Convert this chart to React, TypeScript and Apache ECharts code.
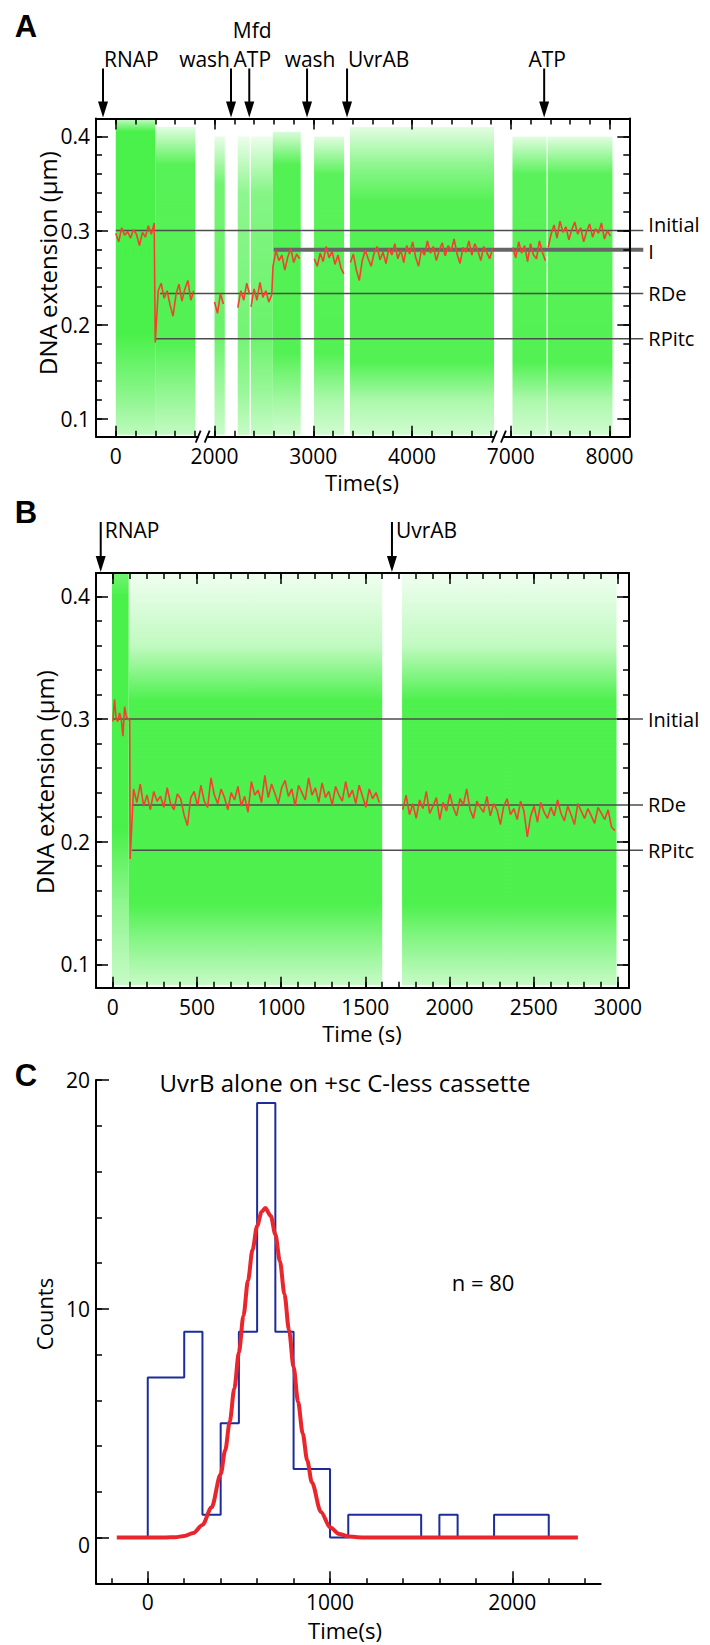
import React, { useEffect, useRef } from "react";
import * as echarts from "echarts";

const FONT = "'Open Sans', 'Liberation Sans', sans-serif";
const GREEN = [68, 240, 68];

// ================= Panel A =================
// axis with two breaks: each shown real-time range and the offset subtracted for display
const axisBreaksA = [
  { from: -200, to: 880, shift: 0 },
  { from: 1880, to: 4880, shift: 1000 },
  { from: 6880, to: 8200, shift: 3000 },
];
const xLabelTimesA = [0, 2000, 3000, 4000, 7000, 8000];
const yRangeAB = [0.081, 0.419];
const yLabelValuesAB = [0.1, 0.2, 0.3, 0.4];

// green raw-data clouds: time span and density profile [extension, relative density]
const greenA = [
  { t0: 0, t1: 400, stops: [[0.418, 0.35], [0.405, 0.97], [0.19, 0.97], [0.13, 0.65], [0.083, 0.35]] },
  { t0: 400, t1: 805, stops: [[0.41, 0.15], [0.37, 0.9], [0.18, 0.92], [0.13, 0.6], [0.083, 0.32]] },
  { t0: 2000, t1: 2104, stops: [[0.4, 0.12], [0.35, 0.75], [0.19, 0.8], [0.13, 0.5], [0.083, 0.28]] },
  { t0: 2235, t1: 2356, stops: [[0.4, 0.1], [0.34, 0.6], [0.19, 0.75], [0.13, 0.55], [0.083, 0.3]] },
  { t0: 2368, t1: 2590, stops: [[0.4, 0.1], [0.34, 0.65], [0.19, 0.8], [0.13, 0.55], [0.083, 0.3]] },
  { t0: 2590, t1: 2873, stops: [[0.405, 0.2], [0.37, 0.92], [0.17, 0.92], [0.12, 0.5], [0.083, 0.25]] },
  { t0: 3008, t1: 3312, stops: [[0.4, 0.15], [0.36, 0.88], [0.17, 0.92], [0.12, 0.45], [0.083, 0.25]] },
  { t0: 3372, t1: 4830, stops: [[0.41, 0.15], [0.37, 0.6], [0.33, 0.92], [0.16, 0.92], [0.12, 0.45], [0.083, 0.25]] },
  { t0: 7017, t1: 7362, stops: [[0.4, 0.15], [0.36, 0.88], [0.16, 0.92], [0.12, 0.45], [0.083, 0.25]] },
  { t0: 7376, t1: 8030, stops: [[0.4, 0.15], [0.36, 0.88], [0.16, 0.92], [0.12, 0.45], [0.083, 0.25]] },
];

// red filtered trace: start time, sample step (s), values (µm); cont = joins previous piece
const redA = [
  { t0: 0, dt: 30, v: [0.297, 0.288, 0.303, 0.295, 0.299, 0.292, 0.301, 0.296, 0.284, 0.298, 0.293, 0.305, 0.296, 0.308] },
  { t0: 400, dt: 30, cont: true, v: [0.181, 0.236, 0.244, 0.228, 0.236, 0.221, 0.209, 0.232, 0.243, 0.225, 0.238, 0.247, 0.226, 0.236] },
  { t0: 2000, dt: 30, v: [0.224, 0.212, 0.233, 0.222] },
  { t0: 2236, dt: 30, v: [0.218, 0.236, 0.226, 0.244, 0.232] },
  { t0: 2370, dt: 30, v: [0.219, 0.238, 0.226, 0.245, 0.229, 0.236, 0.224, 0.232] },
  { t0: 2592, dt: 30, cont: true, v: [0.262, 0.279, 0.268, 0.274, 0.258, 0.272, 0.281, 0.266, 0.275, 0.27] },
  { t0: 3010, dt: 30, v: [0.27, 0.262, 0.276, 0.267, 0.283, 0.271, 0.278, 0.264, 0.274, 0.26, 0.254] },
  {
    t0: 3376, dt: 30, v: [0.266, 0.275, 0.258, 0.247, 0.268, 0.279, 0.27, 0.262, 0.276, 0.283, 0.269, 0.277, 0.265, 0.281, 0.274, 0.286, 0.27, 0.279, 0.266, 0.284,
      0.275, 0.288, 0.272, 0.262, 0.28, 0.274, 0.289, 0.276, 0.283, 0.268, 0.279, 0.287, 0.273, 0.284, 0.278, 0.291, 0.275, 0.265, 0.282, 0.277,
      0.289, 0.274, 0.286, 0.279, 0.268, 0.283, 0.277, 0.27, 0.281],
  },
  { t0: 7020, dt: 30, v: [0.282, 0.271, 0.288, 0.276, 0.284, 0.267, 0.286, 0.274, 0.27, 0.289, 0.277, 0.268] },
  { t0: 7378, dt: 30, v: [0.282, 0.296, 0.306, 0.292, 0.31, 0.298, 0.304, 0.29, 0.301, 0.309, 0.296, 0.303, 0.288, 0.299, 0.307, 0.293, 0.302, 0.297, 0.308, 0.291, 0.3, 0.294] },
];

const refLinesA = [
  { label: "Initial", y: 0.3, t0: 0, heavy: false },
  { label: "I", y: 0.2795, t0: 2600, heavy: true },
  { label: "RDe", y: 0.233, t0: 450, heavy: false },
  { label: "RPitc", y: 0.185, t0: 400, heavy: false },
];

const arrowsA = [
  { t: -129, label: "RNAP", align: "left", over: "" },
  { t: 2167, label: "wash", align: "right", over: "" },
  { t: 2352, label: "ATP", align: "center", over: "Mfd" },
  { t: 2937, label: "wash", align: "center", over: "" },
  { t: 3342, label: "UvrAB", align: "left", over: "" },
  { t: 7338, label: "ATP", align: "center", over: "" },
];

// ================= Panel B =================
const xRangeB = [-100, 3066];
const xLabelValuesB = [0, 500, 1000, 1500, 2000, 2500, 3000];

const greenB = [
  { t0: -5, t1: 94, stops: [[0.419, 0.75], [0.4, 0.97], [0.21, 0.97], [0.15, 0.6], [0.083, 0.3]] },
  { t0: 94, t1: 1600, stops: [[0.419, 0.08], [0.36, 0.33], [0.315, 0.95], [0.15, 0.95], [0.12, 0.65], [0.083, 0.3]] },
  { t0: 1718, t1: 2992, stops: [[0.419, 0.08], [0.36, 0.33], [0.315, 0.95], [0.15, 0.95], [0.12, 0.65], [0.083, 0.3]] },
];

const redB = [
  { t0: 0, dt: 10, v: [0.298, 0.316, 0.3, 0.298, 0.305, 0.3, 0.286, 0.31, 0.302, 0.3, 0.299] },
  {
    t0: 103, dt: 20, cont: true, v: [0.186, 0.243, 0.232, 0.247, 0.229, 0.238, 0.226, 0.241, 0.233, 0.237, 0.228, 0.244, 0.231, 0.226, 0.239, 0.235, 0.222, 0.213, 0.236, 0.241,
      0.229, 0.246, 0.233, 0.228, 0.252, 0.238, 0.231, 0.243, 0.236, 0.226, 0.24, 0.234, 0.245, 0.229, 0.237, 0.224, 0.249, 0.238, 0.242, 0.232,
      0.254, 0.236, 0.247, 0.239, 0.231, 0.244, 0.25, 0.237, 0.243, 0.229, 0.246, 0.24, 0.234, 0.252, 0.238, 0.244, 0.232, 0.248, 0.236, 0.241,
      0.23, 0.245, 0.238, 0.233, 0.249, 0.236, 0.242, 0.231, 0.246, 0.237, 0.228, 0.243, 0.235, 0.24, 0.232],
  },
  {
    t0: 1722, dt: 20, v: [0.226, 0.238, 0.222, 0.231, 0.219, 0.234, 0.227, 0.241, 0.223, 0.229, 0.236, 0.218, 0.232, 0.225, 0.239, 0.228, 0.221, 0.235, 0.23, 0.243,
      0.226, 0.219, 0.233, 0.228, 0.224, 0.237, 0.221, 0.231, 0.226, 0.214, 0.229, 0.235, 0.222, 0.227, 0.218, 0.233, 0.225, 0.204, 0.221, 0.229,
      0.216, 0.232, 0.224, 0.219, 0.228, 0.221, 0.234, 0.223, 0.217, 0.229, 0.222, 0.214, 0.231, 0.225, 0.219, 0.227, 0.221, 0.215, 0.228, 0.223,
      0.218, 0.226, 0.212, 0.209],
  },
];

const refLinesB = [
  { label: "Initial", y: 0.3, t0: 0, heavy: false },
  { label: "RDe", y: 0.23, t0: 113, heavy: false },
  { label: "RPitc", y: 0.193, t0: 113, heavy: false },
];

const arrowsB = [
  { t: -72, label: "RNAP", align: "left", over: "" },
  { t: 1658, label: "UvrAB", align: "left", over: "" },
];

// ================= Panel C =================
const xRangeC = [-284, 2485];
const yRangeC = [-2, 20];
const xLabelValuesC = [0, 1000, 2000];
const yLabelValuesC = [0, 10, 20];
const binStartsC = [0, 100, 200, 300, 400, 500, 600, 700, 800, 900, 1000, 1100, 1200, 1300, 1400, 1500, 1600, 1700, 1800, 1900, 2000, 2100];
const binWidthC = 100;
const countsC = [7, 7, 9, 1, 5, 9, 19, 9, 3, 3, 0, 1, 1, 1, 1, 0, 1, 0, 0, 1, 1, 1];
const fitTimesC = [-170, 100, 150, 200, 250, 300, 350, 400, 425, 450, 475, 500, 525, 550, 575, 600, 625, 645, 675, 700, 725, 750, 775, 800, 825, 850, 875, 900, 950, 1000, 1050, 1100, 1150, 1200, 2360];
const fitCountsC = [0, 0.004, 0.017, 0.063, 0.2, 0.55, 1.32, 2.77, 3.82, 5.07, 6.52, 8.09, 9.7, 11.24, 12.59, 13.62, 14.24, 14.4, 14.05, 13.25, 12.08, 10.64, 9.06, 7.45, 5.92, 4.55, 3.37, 2.42, 1.12, 0.45, 0.16, 0.05, 0.013, 0, 0];

// ================= helpers / styling =================
const labelNudgeA: Record<string, number> = { Initial: -6, I: 2 };

const toDispA = (t: number) => {
  let s = axisBreaksA[0].shift;
  for (const b of axisBreaksA) if (t >= b.from) s = b.shift;
  return t - s;
};
const ident = (t: number) => t;
const rgba = (a: number) => `rgba(${GREEN[0]},${GREEN[1]},${GREEN[2]},${a})`;
const range = (a: number, b: number, step: number) => {
  const out: number[] = [];
  const n = Math.round((b - a) / step);
  for (let i = 0; i <= n; i++) out.push(Math.round((a + i * step) * 1000) / 1000);
  return out;
};

function buildRed(pieces: any[], map: (t: number) => number) {
  const lines: number[][][] = [];
  pieces.forEach((p) => {
    const pts = p.v.map((v: number, i: number) => [map(p.t0 + i * p.dt), v]);
    if (p.cont && lines.length) lines[lines.length - 1].push(...pts);
    else lines.push(pts);
  });
  return lines;
}

function mkAxis(o: any) {
  return {
    type: "value",
    gridIndex: o.grid,
    min: o.min,
    max: o.max,
    position: o.pos,
    z: 6,
    axisLine: { show: !!o.line, onZero: false, lineStyle: { color: "#000", width: 2 } },
    axisTick: { show: true, inside: true, length: o.len, customValues: o.ticks, lineStyle: { color: "#000", width: 1.5 } },
    axisLabel: o.labels
      ? { show: true, customValues: o.labels, formatter: o.fmt, margin: o.margin, fontSize: 21, color: "#000", fontFamily: FONT, rich: o.rich }
      : { show: false },
    splitLine: { show: false },
    minorTick: { show: false },
  };
}

function greenSeries(xi: number, segs: any[], map: (t: number) => number) {
  return {
    type: "custom",
    xAxisIndex: xi,
    yAxisIndex: xi,
    z: 1,
    silent: true,
    clip: false,
    data: segs.map((s) => [map(s.t0), map(s.t1), s.stops[0][0], s.stops[s.stops.length - 1][0]]),
    renderItem: (params: any, api: any) => {
      const s = segs[params.dataIndex];
      const p0 = api.coord([api.value(0), api.value(2)]);
      const p1 = api.coord([api.value(1), api.value(3)]);
      const h = p1[1] - p0[1];
      const colorStops = s.stops.map((st: number[]) => ({
        offset: Math.min(1, Math.max(0, (api.coord([api.value(0), st[0]])[1] - p0[1]) / h)),
        color: rgba(st[1]),
      }));
      return {
        type: "rect",
        shape: { x: p0[0], y: p0[1], width: p1[0] - p0[0], height: h },
        style: { fill: new echarts.graphic.LinearGradient(0, 0, 0, 1, colorStops) },
      };
    },
  };
}

function refSeries(xi: number, lines: any[], map: (t: number) => number, xMax: number, nudge: Record<string, number>) {
  return {
    type: "custom",
    xAxisIndex: xi,
    yAxisIndex: xi,
    z: 3,
    silent: true,
    clip: false,
    data: lines.map((r) => [map(r.t0), r.y]),
    renderItem: (params: any, api: any) => {
      const r = lines[params.dataIndex];
      const p0 = api.coord([api.value(0), api.value(1)]);
      const pe = api.coord([xMax, api.value(1)]);
      const xEnd = pe[0] + 14;
      return {
        type: "group",
        children: [
          {
            type: "line",
            shape: { x1: p0[0], y1: p0[1], x2: xEnd, y2: p0[1] },
            style: { stroke: r.heavy ? "#666" : "#4d4d4d", lineWidth: r.heavy ? 4 : 1.5 },
          },
          {
            type: "text",
            x: xEnd + 5,
            y: p0[1] + (nudge[r.label] || 0),
            style: { text: r.label, fontSize: 20, lineHeight: 20, fontFamily: FONT, fill: "#000", align: "left", verticalAlign: "middle" },
          },
        ],
      };
    },
  };
}

function arrowSeries(xi: number, items: any[], map: (t: number) => number, yTopVal: number, cfg: any) {
  return {
    type: "custom",
    xAxisIndex: xi,
    yAxisIndex: xi,
    z: 10,
    silent: true,
    clip: false,
    data: items.map((a) => [map(a.t), yTopVal]),
    renderItem: (params: any, api: any) => {
      const a = items[params.dataIndex];
      const p = api.coord([api.value(0), api.value(1)]);
      const x = p[0];
      const yTop = p[1];
      const children: any[] = [
        { type: "line", shape: { x1: x, y1: yTop - cfg.shaft, x2: x, y2: yTop - cfg.head + 2 }, style: { stroke: "#000", lineWidth: 2 } },
        { type: "polygon", shape: { points: [[x - 5, yTop - cfg.head], [x + 5, yTop - cfg.head], [x, yTop - 1]] }, style: { fill: "#000" } },
      ];
      let tx = x;
      if (cfg.beside) tx = x + 4;
      else if (a.align === "left") tx = x + 1;
      else if (a.align === "right") tx = x - 1;
      else tx = x + 3;
      children.push({
        type: "text",
        x: tx,
        y: yTop + cfg.labelDy,
        style: { text: a.label, fontSize: 21, fontFamily: FONT, fill: "#000", align: cfg.beside ? "left" : a.align, verticalAlign: "middle" },
      });
      if (a.over) {
        children.push({
          type: "text",
          x: tx,
          y: yTop + cfg.labelDy - 29,
          style: { text: a.over, fontSize: 21, fontFamily: FONT, fill: "#000", align: "center", verticalAlign: "middle" },
        });
      }
      return { type: "group", children };
    },
  };
}

function breakSeries(xi: number, dispPositions: number[], yMinVal: number) {
  return {
    type: "custom",
    xAxisIndex: xi,
    yAxisIndex: xi,
    z: 12,
    silent: true,
    clip: false,
    data: dispPositions.map((d) => [d, yMinVal]),
    renderItem: (params: any, api: any) => {
      const p = api.coord([api.value(0), api.value(1)]);
      const cx = p[0];
      const cy = p[1];
      return {
        type: "group",
        children: [
          { type: "rect", shape: { x: cx - 4, y: cy - 3, width: 8, height: 6 }, style: { fill: "#fff" } },
          { type: "line", shape: { x1: cx - 7, y1: cy + 6, x2: cx - 2, y2: cy - 6 }, style: { stroke: "#000", lineWidth: 1.8 } },
          { type: "line", shape: { x1: cx + 2, y1: cy + 6, x2: cx + 7, y2: cy - 6 }, style: { stroke: "#000", lineWidth: 1.8 } },
        ],
      };
    },
  };
}

function redSeries(xi: number, lines: number[][][]) {
  return lines.map((pts) => ({
    type: "line",
    xAxisIndex: xi,
    yAxisIndex: xi,
    z: 4,
    silent: true,
    showSymbol: false,
    symbol: "none",
    data: pts,
    lineStyle: { color: "#f2412f", width: 1.6 },
  }));
}

function txt(text: string, x: number, y: number, size: number, extra: any = {}) {
  return {
    type: "text",
    x,
    y,
    rotation: extra.rotation || 0,
    style: {
      text,
      fontSize: size,
      fontFamily: extra.family || FONT,
      fontWeight: extra.weight || "normal",
      fill: "#000",
      align: "center",
      verticalAlign: "middle",
      textAlign: "center",
      textVerticalAlign: "middle",
    },
  };
}

function buildOption() {
  const xMinA = toDispA(-200);
  const xMaxA = toDispA(8200);
  const xLabelDispA = xLabelTimesA.map(toDispA);
  const fmtA = (v: number) => {
    const i = xLabelDispA.findIndex((d) => Math.abs(d - v) < 1e-6);
    return i >= 0 ? String(xLabelTimesA[i]) : "";
  };
  const fmtY = (v: number) => v.toFixed(1);
  const fmtYC = (v: number) => (v === 0 ? "{low|0}" : String(v));
  const richYC = { low: { fontSize: 21, fontFamily: FONT, color: "#000", padding: [14, 0, 0, 0] } };
  const minorA = range(-200, 5200, 200);
  const minorYAB = range(0.1, 0.4, 0.02);
  const minorB = range(-100, 3000, 100);
  const minorXC = range(-200, 2400, 200);
  const minorYC = range(-2, 20, 2);

  const histPts: number[][] = [[binStartsC[0], 0]];
  binStartsC.forEach((b, i) => {
    histPts.push([b, countsC[i]]);
    histPts.push([b + binWidthC, countsC[i]]);
  });
  histPts.push([binStartsC[binStartsC.length - 1] + binWidthC, 0]);
  const fitPts = fitTimesC.map((t, i) => [t, fitCountsC[i]]);

  const xAxis = [
    // A (0-3)
    mkAxis({ grid: 0, min: xMinA, max: xMaxA, pos: "bottom", line: true, len: 6, ticks: minorA, labels: xLabelDispA, fmt: fmtA, margin: 9 }),
    mkAxis({ grid: 0, min: xMinA, max: xMaxA, pos: "bottom", line: false, len: 11, ticks: xLabelDispA }),
    mkAxis({ grid: 0, min: xMinA, max: xMaxA, pos: "top", line: true, len: 6, ticks: minorA }),
    mkAxis({ grid: 0, min: xMinA, max: xMaxA, pos: "top", line: false, len: 11, ticks: xLabelDispA }),
    // B (4-7)
    mkAxis({ grid: 1, min: xRangeB[0], max: xRangeB[1], pos: "bottom", line: true, len: 6, ticks: minorB, labels: xLabelValuesB, fmt: (v: number) => String(v), margin: 9 }),
    mkAxis({ grid: 1, min: xRangeB[0], max: xRangeB[1], pos: "bottom", line: false, len: 11, ticks: xLabelValuesB }),
    mkAxis({ grid: 1, min: xRangeB[0], max: xRangeB[1], pos: "top", line: true, len: 6, ticks: minorB }),
    mkAxis({ grid: 1, min: xRangeB[0], max: xRangeB[1], pos: "top", line: false, len: 11, ticks: xLabelValuesB }),
    // C (8-9)
    mkAxis({ grid: 2, min: xRangeC[0], max: xRangeC[1], pos: "bottom", line: true, len: 5, ticks: minorXC, labels: xLabelValuesC, fmt: (v: number) => String(v), margin: 8 }),
    mkAxis({ grid: 2, min: xRangeC[0], max: xRangeC[1], pos: "bottom", line: false, len: 12, ticks: xLabelValuesC }),
  ];
  const yAxis = [
    mkAxis({ grid: 0, min: yRangeAB[0], max: yRangeAB[1], pos: "left", line: true, len: 6, ticks: minorYAB, labels: yLabelValuesAB, fmt: fmtY, margin: 6 }),
    mkAxis({ grid: 0, min: yRangeAB[0], max: yRangeAB[1], pos: "left", line: false, len: 12, ticks: yLabelValuesAB }),
    mkAxis({ grid: 0, min: yRangeAB[0], max: yRangeAB[1], pos: "right", line: true, len: 6, ticks: minorYAB }),
    mkAxis({ grid: 0, min: yRangeAB[0], max: yRangeAB[1], pos: "right", line: false, len: 12, ticks: yLabelValuesAB }),
    mkAxis({ grid: 1, min: yRangeAB[0], max: yRangeAB[1], pos: "left", line: true, len: 6, ticks: minorYAB, labels: yLabelValuesAB, fmt: fmtY, margin: 6 }),
    mkAxis({ grid: 1, min: yRangeAB[0], max: yRangeAB[1], pos: "left", line: false, len: 12, ticks: yLabelValuesAB }),
    mkAxis({ grid: 1, min: yRangeAB[0], max: yRangeAB[1], pos: "right", line: true, len: 6, ticks: minorYAB }),
    mkAxis({ grid: 1, min: yRangeAB[0], max: yRangeAB[1], pos: "right", line: false, len: 12, ticks: yLabelValuesAB }),
    mkAxis({ grid: 2, min: yRangeC[0], max: yRangeC[1], pos: "left", line: true, len: 6, ticks: minorYC, labels: yLabelValuesC, fmt: fmtYC, rich: richYC, margin: 6 }),
    mkAxis({ grid: 2, min: yRangeC[0], max: yRangeC[1], pos: "left", line: false, len: 13, ticks: yLabelValuesC }),
  ];

  const series: any[] = [
    greenSeries(0, greenA, toDispA),
    refSeries(0, refLinesA, toDispA, xMaxA, labelNudgeA),
    ...redSeries(0, buildRed(redA, toDispA)),
    breakSeries(0, axisBreaksA.slice(1).map((b) => b.from - b.shift), yRangeAB[0]),
    arrowSeries(0, arrowsA, toDispA, yRangeAB[1], { shaft: 50, head: 17, labelDy: -60, beside: false }),

    greenSeries(4, greenB, ident),
    refSeries(4, refLinesB, ident, xRangeB[1], {}),
    ...redSeries(4, buildRed(redB, ident)),
    arrowSeries(4, arrowsB, ident, yRangeAB[1], { shaft: 51, head: 17, labelDy: -43, beside: true }),

    {
      type: "line",
      xAxisIndex: 8,
      yAxisIndex: 8,
      z: 3,
      silent: true,
      symbol: "none",
      data: histPts,
      lineStyle: { color: "#1d2c9c", width: 2 },
    },
    {
      type: "line",
      xAxisIndex: 8,
      yAxisIndex: 8,
      z: 4,
      silent: true,
      symbol: "none",
      smooth: 0.3,
      smoothMonotone: "x",
      data: fitPts,
      lineStyle: { color: "#e8262c", width: 4 },
    },
  ];

  return {
    animation: false,
    backgroundColor: "#fff",
    textStyle: { fontFamily: FONT },
    grid: [
      { left: 96, top: 118.5, width: 533.3, height: 318.2 },
      { left: 96, top: 573, width: 533, height: 414.7 },
      { left: 96, top: 1080, width: 504.7, height: 503.3 },
    ],
    xAxis,
    yAxis,
    series,
    graphic: {
      elements: [
        txt("A", 26, 26, 31, { weight: "bold", family: "'Liberation Sans', Arial, sans-serif" }),
        txt("B", 26, 512, 31, { weight: "bold", family: "'Liberation Sans', Arial, sans-serif" }),
        txt("C", 26, 1075, 31, { weight: "bold", family: "'Liberation Sans', Arial, sans-serif" }),
        txt("DNA extension (μm)", 47, 263, 24, { rotation: Math.PI / 2 }),
        txt("Time(s)", 362, 482, 22),
        txt("DNA extension (μm)", 44, 782, 24, { rotation: Math.PI / 2 }),
        txt("Time (s)", 362, 1033, 22),
        txt("UvrB alone on +sc C-less cassette", 345, 1082, 24),
        txt("n = 80", 483, 1282, 22),
        txt("Counts", 44, 1314, 22, { rotation: Math.PI / 2 }),
        txt("Time(s)", 345, 1630, 22),
      ],
    },
  };
}

export default function App() {
  const ref = useRef<HTMLDivElement>(null);
  useEffect(() => {
    const chart = echarts.init(ref.current as HTMLDivElement, null, { renderer: "svg" });
    chart.setOption(buildOption() as any);
    return () => chart.dispose();
  }, []);
  return (
    <div
      ref={ref}
      style={{ position: "absolute", left: 0, top: 0, width: 710, height: 1645, background: "#fff" }}
    />
  );
}
